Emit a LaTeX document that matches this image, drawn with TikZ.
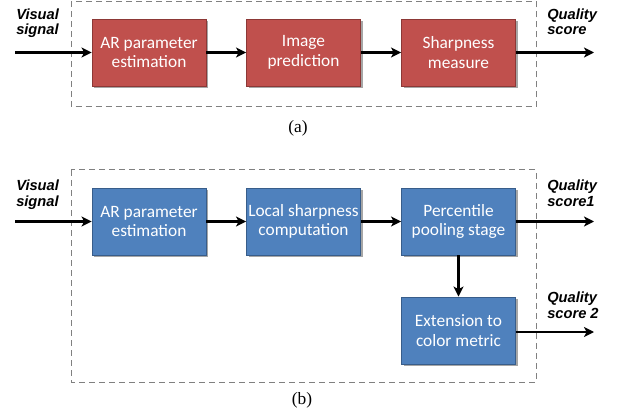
\documentclass[tikz,border=0pt]{standalone}
\usepackage{fontspec}
\setmainfont{Liberation Serif}
\newfontfamily\boxfont{Carlito}
\newfontfamily\sigfont{Liberation Sans}
\usetikzlibrary{arrows.meta,shadows}

\definecolor{redfill}{HTML}{C0504D}
\definecolor{redline}{HTML}{8C3836}
\definecolor{bluefill}{HTML}{4F81BD}
\definecolor{blueline}{HTML}{385D8A}

\tikzset{
  block/.style={rectangle, minimum width=85.5pt, minimum height=50.25pt, inner sep=0pt,
    align=center, text=white, line width=0.7pt,
    font=\boxfont\fontsize{13}{14.8}\selectfont,
    drop shadow={shadow xshift=1.6pt, shadow yshift=-1.6pt, fill=black, opacity=0.35}},
  redblock/.style={block, fill=redfill, draw=redline},
  blueblock/.style={block, fill=bluefill, draw=blueline},
  flow/.style={line width=1.9pt, -{Stealth[length=7.5pt, width=7.5pt, inset=2pt]}},
  frame/.style={draw=black!50, line width=0.75pt, dash pattern=on 4.5pt off 3pt},
  sig/.style={align=left, anchor=base west, inner sep=0pt,
    font=\sigfont\bfseries\itshape\fontsize{11}{11.5}\selectfont},
  caption/.style={font=\fontsize{13}{15}\selectfont, inner sep=0pt}
}

\begin{document}
\begin{tikzpicture}[x=0.75pt, y=-0.75pt]
  \useasboundingbox (0,0) rectangle (620,420);

  % ---- (a) ----
  \draw[frame] (71,1.5) rectangle (536,107);
  \node[redblock] (a1) at (149,52.5) {AR parameter\\estimation};
  \node[redblock] (a2) at (303.5,52.5) {Image\\prediction};
  \node[redblock] (a3) at (458.5,52.5) {Sharpness\\measure};
  \coordinate (ain) at (15,52.5);
  \coordinate (aout) at (594,52.5);
  \draw[flow] (ain) -- (a1);
  \draw[flow] (a1) -- (a2);
  \draw[flow] (a2) -- (a3);
  \draw[flow] (a3) -- (aout);
  % anchor sits on the baseline of the second line
  \node[sig] (aint) at (16,35) {Visual\\signal};
  \node[sig] (aoutt) at (547,35) {Quality\\score};
  \node[caption] (capa) at (298,128) {(a)};

  % ---- (b) ----
  \draw[frame] (71,170) rectangle (536,382);
  \node[blueblock] (b1) at (149,221.5) {AR parameter\\estimation};
  \node[blueblock] (b2) at (303.5,221.5) {Local sharpness\\computation};
  \node[blueblock] (b3) at (458.5,221.5) {Percentile\\pooling stage};
  \node[blueblock] (b4) at (458.5,330.5) {Extension to\\color metric};
  \coordinate (bin) at (15,221.5);
  \coordinate (bout1) at (594,221.5);
  \coordinate (bout2) at (594,332);
  \draw[flow] (bin) -- (b1);
  \draw[flow] (b1) -- (b2);
  \draw[flow] (b2) -- (b3);
  \draw[flow] (b3) -- (bout1);
  \draw[flow] (b3) -- (b4);
  \draw[flow] (b4.east |- bout2) -- (bout2);
  \node[sig] (bint) at (16,206) {Visual\\signal};
  \node[sig] (bout1t) at (547,206) {Quality\\score1};
  \node[sig] (bout2t) at (547,318) {Quality\\score 2};
  \node[caption] (capb) at (302,400) {(b)};
\end{tikzpicture}
\end{document}
